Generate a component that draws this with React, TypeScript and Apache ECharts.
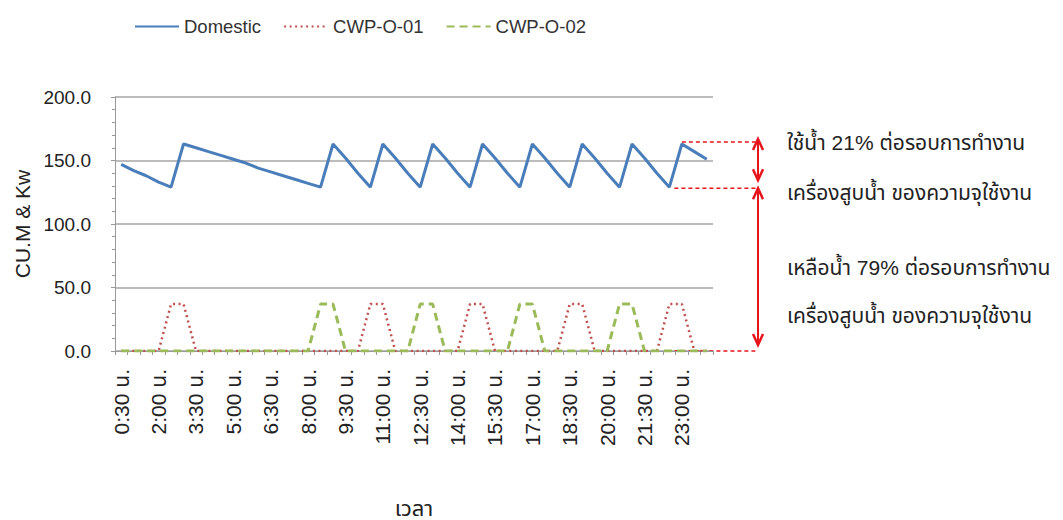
import React, { useEffect, useRef } from "react";
import * as echarts from "echarts";

const categories = [
  "0:30 น.", "1:00 น.", "1:30 น.", "2:00 น.", "2:30 น.", "3:00 น.", "3:30 น.", "4:00 น.",
  "4:30 น.", "5:00 น.", "5:30 น.", "6:00 น.", "6:30 น.", "7:00 น.", "7:30 น.", "8:00 น.",
  "8:30 น.", "9:00 น.", "9:30 น.", "10:00 น.", "10:30 น.", "11:00 น.", "11:30 น.", "12:00 น.",
  "12:30 น.", "13:00 น.", "13:30 น.", "14:00 น.", "14:30 น.", "15:00 น.", "15:30 น.", "16:00 น.",
  "16:30 น.", "17:00 น.", "17:30 น.", "18:00 น.", "18:30 น.", "19:00 น.", "19:30 น.", "20:00 น.",
  "20:30 น.", "21:00 น.", "21:30 น.", "22:00 น.", "22:30 น.", "23:00 น.", "23:30 น.", "24:00 น.",
];

const domestic = [
  147, 142, 138, 133, 129, 163, 160, 157, 154, 151, 148, 144, 141, 138, 135, 132,
  129, 163, 152, 140, 129, 163, 152, 140, 129, 163, 152, 140, 129, 163, 152, 140,
  129, 163, 152, 140, 129, 163, 152, 140, 129, 163, 152, 140, 129, 163, 157, 151,
];

const cwp01 = [
  0, 0, 0, 0, 37, 37, 0, 0, 0, 0, 0, 0, 0, 0, 0, 0,
  0, 0, 0, 0, 37, 37, 0, 0, 0, 0, 0, 0, 37, 37, 0, 0,
  0, 0, 0, 0, 37, 37, 0, 0, 0, 0, 0, 0, 37, 37, 0, 0,
];

const cwp02 = [
  0, 0, 0, 0, 0, 0, 0, 0, 0, 0, 0, 0, 0, 0, 0, 0,
  37, 37, 0, 0, 0, 0, 0, 0, 37, 37, 0, 0, 0, 0, 0, 0,
  37, 37, 0, 0, 0, 0, 0, 0, 37, 37, 0, 0, 0, 0, 0, 0,
];

const yTicks = { min: 0, max: 200, interval: 50 };

const annotationLines = [
  "ใช้น้ำ 21% ต่อรอบการทำงาน",
  "เครื่องสูบน้ำ ของความจุใช้งาน",
  "เหลือน้ำ 79% ต่อรอบการทำงาน",
  "เครื่องสูบน้ำ ของความจุใช้งาน",
];

const FONT = 'Arial, "Liberation Sans", "Noto Sans Thai", "Noto Sans", "DejaVu Sans", sans-serif';

export default function App() {
  const ref = useRef<HTMLDivElement>(null);
  useEffect(() => {
    if (!ref.current) return;
    const chart = echarts.init(ref.current, undefined, { renderer: "svg" });
    chart.setOption({
      animation: false,
      textStyle: { fontFamily: FONT },
      legend: {
        top: 12,
        left: 129,
        itemWidth: 44,
        itemHeight: 4,
        itemGap: 22,
        itemStyle: { opacity: 0 },
        textStyle: { fontSize: 18.5, color: "#333", fontFamily: FONT },
        data: ["Domestic", "CWP-O-01", "CWP-O-02"],
      },
      grid: { left: 115, right: 350, top: 97, bottom: 165 },
      xAxis: {
        type: "category",
        data: categories,
        boundaryGap: true,
        name: "เวลา",
        nameLocation: "middle",
        nameGap: 146,
        nameTextStyle: { fontSize: 22, color: "#222", fontFamily: FONT },
        axisLine: { lineStyle: { color: "#999" } },
        axisTick: { show: true, interval: 0, length: 4, lineStyle: { color: "#999" } },
        axisLabel: {
          interval: 2,
          rotate: 90,
          fontSize: 21,
          color: "#222",
          margin: 18,
          fontFamily: FONT,
        },
      },
      yAxis: {
        type: "value",
        min: yTicks.min,
        max: yTicks.max,
        interval: yTicks.interval,
        name: "CU.M & Kw",
        nameLocation: "middle",
        nameGap: 80,
        nameTextStyle: { fontSize: 21, color: "#222", fontFamily: FONT },
        axisLine: { show: true, lineStyle: { color: "#999" } },
        axisTick: { show: true, length: 4, lineStyle: { color: "#999" } },
        minorTick: { show: true, splitNumber: 5, length: 3, lineStyle: { color: "#999" } },
        axisLabel: {
          formatter: (v: number) => v.toFixed(1),
          fontSize: 19,
          color: "#222",
          margin: 24,
          fontFamily: FONT,
        },
        splitLine: { lineStyle: { color: "#a6a6a6", width: 1.5 } },
      },
      series: [
        {
          name: "Domestic",
          type: "line",
          data: domestic,
          symbol: "none",
          lineStyle: { color: "#4A7EBB", width: 3 },
          itemStyle: { color: "#4A7EBB" },
        },
        {
          name: "CWP-O-01",
          type: "line",
          data: cwp01,
          symbol: "none",
          lineStyle: { color: "#C0504D", width: 2.5, type: [2, 3.5] },
          itemStyle: { color: "#C0504D" },
        },
        {
          name: "CWP-O-02",
          type: "line",
          data: cwp02,
          symbol: "none",
          lineStyle: { color: "#9BBB59", width: 3, type: [8, 5] },
          itemStyle: { color: "#9BBB59" },
        },
      ],
    });

    const p = (i: number, v: number) =>
      chart.convertToPixel({ xAxisIndex: 0, yAxisIndex: 0 }, [i, v]) as number[];
    const top = p(45, 163);
    const mid = p(44, 129);
    const zero = p(44, 0);
    const arrowX = 758;
    const red = "#E8141B";
    const dash = { stroke: red, lineWidth: 1.5, lineDash: [4, 3] };
    const head = (x: number, y: number, dir: number) => ({
      type: "polyline",
      shape: { points: [[x - 5, y + dir * 11], [x, y], [x + 5, y + dir * 11]] },
      style: { stroke: red, lineWidth: 2.5, fill: "none" },
    });
    const topY = top[1] - 2;
    const midY = mid[1] + 1;
    chart.setOption({
      graphic: [
        { type: "line", shape: { x1: top[0], y1: topY, x2: arrowX, y2: topY }, style: dash },
        { type: "line", shape: { x1: mid[0] + 5, y1: midY, x2: arrowX, y2: midY }, style: dash },
        { type: "line", shape: { x1: zero[0] + 5, y1: zero[1], x2: arrowX, y2: zero[1] }, style: dash },
        { type: "line", shape: { x1: arrowX, y1: topY - 3, x2: arrowX, y2: midY - 8 }, style: { stroke: red, lineWidth: 2 } },
        head(arrowX, topY - 3, 1),
        head(arrowX, midY - 8, -1),
        { type: "line", shape: { x1: arrowX, y1: midY, x2: arrowX, y2: zero[1] - 6 }, style: { stroke: red, lineWidth: 2 } },
        head(arrowX, midY, 1),
        head(arrowX, zero[1] - 6, -1),
        ...annotationLines.map((t, k) => ({
          type: "text",
          x: 787,
          y: [142, 192, 267, 315][k],
          style: {
            text: t,
            fontSize: 21,
            fill: "#222",
            fontFamily: FONT,
            verticalAlign: "middle",
          },
        })),
      ],
    });
    return () => chart.dispose();
  }, []);
  return <div ref={ref} style={{ width: 1063, height: 520, marginLeft: -8, marginTop: -8 }} />;
}
